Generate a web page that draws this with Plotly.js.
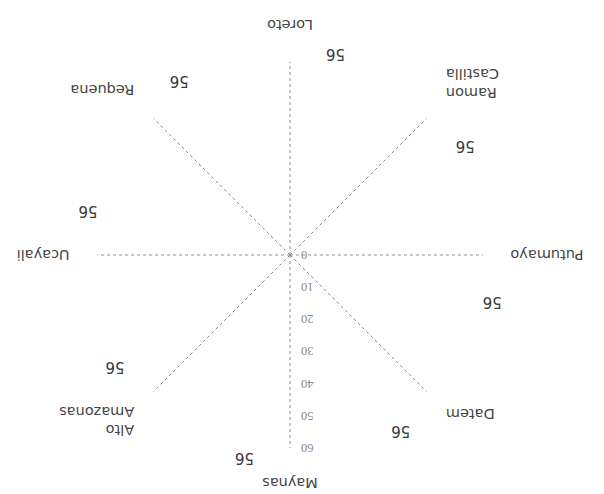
<!DOCTYPE html>
<html><head><meta charset="utf-8">
<script src="https://cdn.plot.ly/plotly-3.0.1.min.js"></script>
<style>
html,body{margin:0;padding:0;background:#fff;overflow:hidden}
#chart{width:604px;height:494px;transform:rotate(180deg);transform-origin:50% 50%;}
</style></head><body><div id="chart"></div>
<script>
// Provinces (clockwise from top, in the chart's own upright orientation)
const categories = ['Maynas', 'Alto<br>Amazonas', 'Ucayali', 'Requena', 'Loreto', 'Ramon<br>Castilla', 'Putumayo', 'Datem'];
const values = [56, 56, 56, 56, 56, 56, 56, 56];
const radialTicks = [0, 10, 20, 30, 40, 50, 60];
const radialTickText = ['0', '10', '20', '30', '40', '50', '60'];

const axisTrace = {
  type: 'scatterpolar', subplot: 'polar',
  r: values, theta: categories, mode: 'lines',
  line: {color: 'rgba(0,0,0,0)'}, hoverinfo: 'skip', showlegend: false
};
const labelTrace = {
  type: 'scatterpolar', subplot: 'polar2',
  r: values, theta: categories, mode: 'text',
  text: values.map(String),
  textfont: {family: 'DejaVu Sans', size: 15, color: '#3a3a3a'},
  cliponaxis: false, hoverinfo: 'skip', showlegend: false
};

const layout = {
  width: 604, height: 494,
  margin: {l: 0, r: 0, t: 0, b: 0},
  paper_bgcolor: '#fff',
  showlegend: false,
  polar: {
    domain: {x: [0.2003, 0.8394], y: [0.1255, 0.9069]},
    bgcolor: 'rgba(0,0,0,0)',
    angularaxis: {
      type: 'category', categoryorder: 'array', categoryarray: categories,
      rotation: 90, direction: 'clockwise',
      showgrid: true, gridcolor: '#8c8c8c', griddash: 'dot', gridwidth: 1,
      showline: false,
      ticks: 'outside', ticklen: 24, tickcolor: 'rgba(0,0,0,0)',
      tickfont: {family: 'DejaVu Sans', size: 14.5, color: '#444'}
    },
    radialaxis: {
      range: [0, 60], tickvals: radialTicks, ticktext: radialTickText,
      angle: 90, side: 'counterclockwise', tickangle: 90,
      showline: false, showgrid: false, ticks: 'outside', ticklen: 6, tickcolor: 'rgba(0,0,0,0)',
      tickfont: {family: 'Liberation Serif', size: 12.5, color: '#8a8a8a'}
    }
  },
  polar2: {
    domain: {x: [0.1523, 0.8874], y: [0.0668, 0.9656]},
    bgcolor: 'rgba(0,0,0,0)',
    angularaxis: {
      type: 'category', categoryorder: 'array', categoryarray: categories,
      rotation: 77.3, direction: 'clockwise',
      showgrid: false, showline: false, showticklabels: false, ticks: ''
    },
    radialaxis: {range: [0, 60], visible: false, showgrid: false, showline: false}
  }
};

Plotly.newPlot('chart', [axisTrace, labelTrace], layout, {displayModeBar: false, staticPlot: true});
</script></body></html>
